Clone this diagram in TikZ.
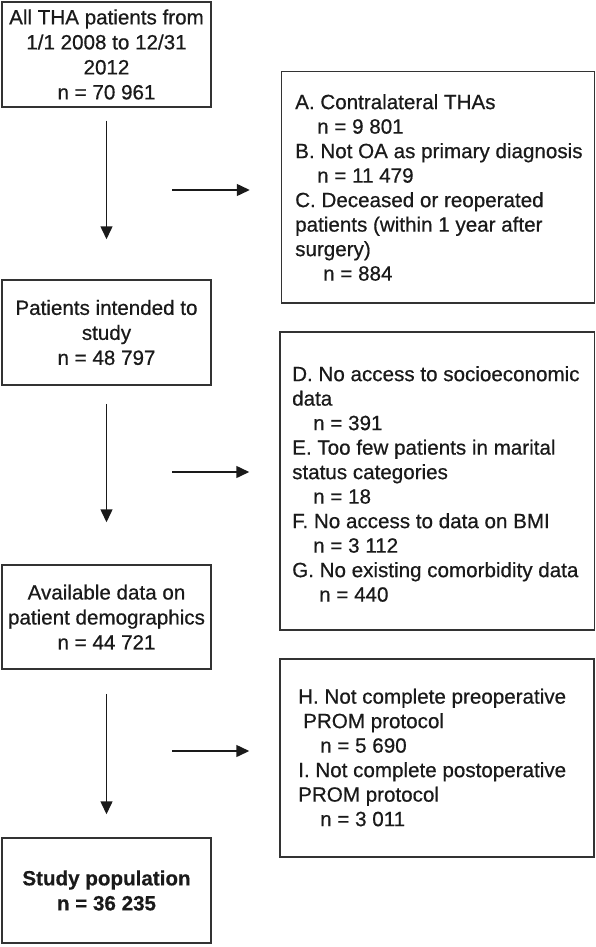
\documentclass[tikz,border=0pt]{standalone}
\usepackage{fontspec}
\setmainfont{Liberation Sans}[UprightFeatures={FakeBold=0.6},BoldFeatures={FakeBold=0.4}]
\usetikzlibrary{arrows.meta}
\definecolor{ink}{HTML}{1A1A1A}
\definecolor{frame}{HTML}{333333}
\begin{document}
\begin{tikzpicture}[x=1pt,y=-1pt,
  every node/.style={text=ink},
  mainbox/.style={draw=frame, line width=1.5pt, minimum width=209pt, align=center, inner sep=0pt,
    font=\fontsize{20.6}{25}\selectfont},
  sidebox/.style={draw=frame, line width=1.5pt, inner sep=0pt},
  sidetext/.style={anchor=west, align=left, inner sep=0pt, font=\fontsize{20.6}{24.5}\selectfont},
  arr/.style={draw=ink, line width=1.5pt, -{Triangle[length=13pt,width=12pt]}}]
\useasboundingbox (0,0) rectangle (596,947);
% main column
\node[mainbox, minimum height=105pt] (b1) at (106.5,54.5) {All THA patients from\\1/1 2008 to 12/31\\2012\\n = 70 961};
\node[mainbox, minimum height=105pt] (b2) at (106.5,332.5) {Patients intended to\\study\\n = 48 797};
\node[mainbox, minimum height=104pt] (b3) at (106.5,617) {Available data on\\patient demographics\\n = 44 721};
\node[mainbox, minimum height=105pt] (b4) at (106.5,890.5) {\bfseries Study population\\\bfseries n = 36 235};
% side boxes
\node[sidebox, minimum width=313pt, minimum height=231.5pt] (bA) at (438,187.25) {};
\node[sidebox, minimum width=314.5pt, minimum height=298pt] (bD) at (437.25,481) {};
\node[sidebox, minimum width=314pt, minimum height=198pt] (bH) at (437,758) {};
\node[sidetext] (tA) at (295,187.5) {A. Contralateral THAs\\\hspace*{22pt}n = 9 801\\B. Not OA as primary diagnosis\\\hspace*{22pt}n = 11 479\\C. Deceased or reoperated\\patients (within 1 year after\\surgery)\\\hspace*{28pt}n = 884};
\node[sidetext] (tD) at (292,484) {D. No access to socioeconomic\\data\\\hspace*{21pt}n = 391\\E. Too few patients in marital\\status categories\\\hspace*{21pt}n = 18\\F. No access to data on BMI\\\hspace*{21pt}n = 3 112\\G. No existing comorbidity data\\\hspace*{27pt}n = 440};
\node[sidetext] (tH) at (298,757.5) {H. Not complete preoperative\\\hspace*{5pt}PROM protocol\\\hspace*{22pt}n = 5 690\\I. Not complete postoperative\\PROM protocol\\\hspace*{22pt}n = 3 011};
% vertical arrows
\draw[arr, shorten <=13pt, shorten >=40pt] (b1.south) -- (b2.north);
\draw[arr, shorten <=18pt, shorten >=42pt] (b2.south) -- (b3.north);
\draw[arr, shorten <=24pt, shorten >=23pt] (b3.south) -- (b4.north);
% horizontal arrows
\coordinate (h1) at (172,190);
\coordinate (h2) at (172,472);
\coordinate (h3) at (172,751);
\draw[arr, shorten >=31pt] (h1) -- (bA.west |- h1);
\draw[arr, shorten >=30pt] (h2) -- (bD.west |- h2);
\draw[arr, shorten >=30pt] (h3) -- (bH.west |- h3);
\end{tikzpicture}
\end{document}
